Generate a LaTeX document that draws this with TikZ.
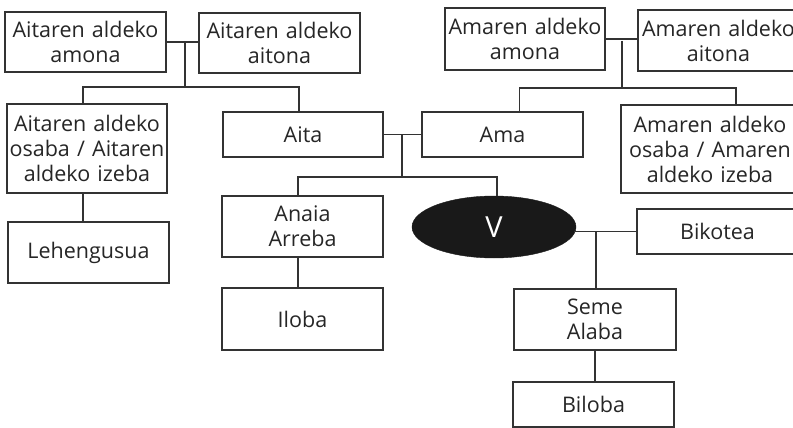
\documentclass[tikz,border=0pt]{standalone}
\usepackage{fontspec}
\setmainfont{Open Sans}
\usetikzlibrary{shapes,positioning,calc}

\begin{document}
\begin{tikzpicture}
  [
    x=1pt, y=-1pt,
    Box/.style={rectangle, draw=black!80, line width=1.3pt, fill=white, inner sep=0pt, align=center, text=black!85, font=\fontsize{21.5}{25}\selectfont},
    Ego/.style={ellipse, draw=black!90, fill=black!90, minimum width=164pt, minimum height=62pt, inner sep=0pt, text=white, font=\fontsize{29}{29}\selectfont},
    Line/.style={draw=black!80, line width=1.3pt}
  ]
  \useasboundingbox (0,0) rectangle (793,428);
  \clip (0,0) rectangle (793,428);
  % Nodes
  \node[Box, text width=161pt, minimum height=60pt] (aamona) at (85.5,42) {Aitaren aldeko\\amona};
  \node[Box, text width=161pt, minimum height=60pt] (aaitona) at (279.5,43) {Aitaren aldeko\\aitona};
  \node[Box, text width=160pt, minimum height=89pt] (aosaba) at (87,148.5) {Aitaren aldeko\\osaba / Aitaren\\aldeko izeba};
  \node[Box, text width=161pt, minimum height=61pt] (lehen) at (88.5,252.5) {Lehengusua};
  \node[Box, text width=160pt, minimum height=45pt] (aita) at (303,134.5) {Aita};
  \node[Box, text width=161pt, minimum height=45pt] (ama) at (502.5,134.5) {Ama};
  \node[Box, text width=160pt, minimum height=62pt] (mamona) at (525,39) {Amaren aldeko\\amona};
  \node[Box, text width=161pt, minimum height=61pt] (maitona) at (718.5,40.5) {Amaren aldeko\\aitona};
  \node[Box, text width=178pt, minimum height=88pt] (mosaba) at (710,149) {Amaren aldeko\\osaba / Amaren\\aldeko izeba};
  \node[Box, text width=161pt, minimum height=45pt] (bikotea) at (717.5,231.5) {Bikotea};
  \node[Box, text width=161pt, minimum height=61pt] (anaia) at (302.5,226.5) {Anaia\\Arreba};
  \node[Ego] (ego) at (494,227) {V};
  \node[Box, text width=161pt, minimum height=62pt] (iloba) at (302.5,319) {Iloba};
  \node[Box, text width=162pt, minimum height=61pt] (seme) at (595,319.5) {Seme\\Alaba};
  \node[Box, text width=161pt, minimum height=45pt] (biloba) at (593.5,404.5) {Biloba};
  % Knots
  \coordinate (ajoin) at (185,42);
  \coordinate (asplit) at (185,87);
  \coordinate (mjoin) at (622,41);
  \coordinate (msplit) at (622,88);
  \coordinate (pjoin) at (402,134.5);
  \coordinate (psplit) at (402,177);
  \coordinate (sjoin) at (596,231.5);
  % Lines
  \path [Line] (aamona.east) -- (aamona.east -| aaitona.west);
  \path [Line] (ajoin) -- (asplit);
  \path [Line] ([xshift=-4pt]aosaba.north) |- (asplit);
  \path [Line] (asplit) -| ([xshift=-4pt]aita.north);
  \path [Line] ([xshift=-4pt]aosaba.south) -- ([xshift=-4pt]aosaba.south |- lehen.north);
  \path [Line] (mamona.east) -- (mamona.east -| maitona.west);
  \path [Line] (mjoin) -- (msplit);
  \path [Line] (msplit) -| ([xshift=17pt]ama.north);
  \path [Line] (msplit) -| ([xshift=26pt]mosaba.north);
  \path [Line] (aita) -- (ama);
  \path [Line] (pjoin) -- (psplit);
  \path [Line] (psplit) -| ([xshift=-4.5pt]anaia.north);
  \path [Line] (psplit) -| ([xshift=3pt]ego.north);
  \path [Line] ([xshift=-4.5pt]anaia.south) -- ([xshift=-4.5pt]anaia.south |- iloba.north);
  \path [Line] ([xshift=-2pt]ego.east |- bikotea.west) -- (bikotea.west);
  \path [Line] (sjoin) -- (sjoin |- seme.north);
  \path [Line] (seme.south) -- (seme.south |- biloba.north);
\end{tikzpicture}
\end{document}
